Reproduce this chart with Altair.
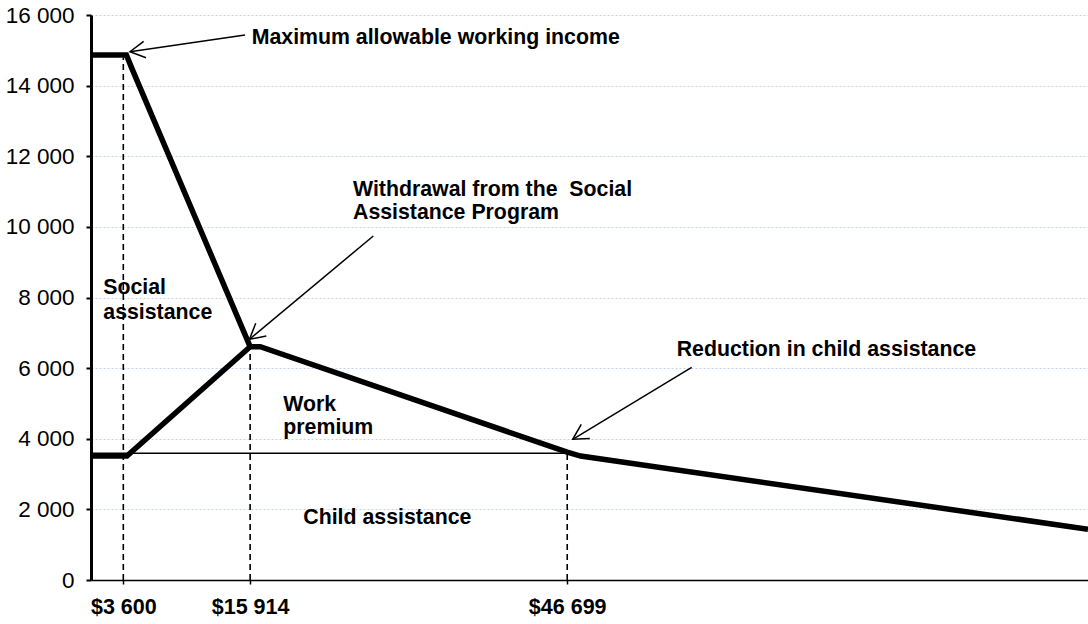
import math
import altair as alt
import pandas as pd

# ---------------- data ----------------
X_MIN, X_MAX = 464, 97260
Y_MAX = 16000
W, H = 997, 565

top_income = [464, 3900, 4400, 15914, 16900, 46699, 48000, 97260]
top_value = [14870, 14870, 14510, 6607, 6607, 3620, 3510, 1436]

low_income = [464, 3950, 15914]
low_value = [3510, 3510, 6607]

child_income = [464, 46500]
child_value = [3590, 3590]

marker_income = [3600, 15914, 46699]
marker_top = [14800, 6600, 3600]

y_ticks = [0, 2000, 4000, 6000, 8000, 10000, 12000, 14000, 16000]

arrow_tail_x = [15416, 27872, 58784]
arrow_tail_y = [15434, 9742, 6024]
arrow_tip_x = [4250, 15852, 47231]
arrow_tip_y = [14961, 6817, 3985]

notes = [
    "Maximum allowable working income",
    "Withdrawal from the \u00a0Social",
    "Assistance Program",
    "Social",
    "assistance",
    "Work",
    "premium",
    "Child assistance",
    "Reduction in child assistance",
]
note_x = [16066, 25901, 25901, 1658, 1658, 19134, 19134, 21076, 57328]
note_y = [15358, 11045, 10385, 8269, 7570, 4956, 4296, 1747, 6514]

FONT = "Liberation Sans"
FS = 21.3

# ---------------- frames ----------------
top_df = pd.DataFrame({"income": top_income, "value": top_value})
low_df = pd.DataFrame({"income": low_income, "value": low_value})
child_df = pd.DataFrame({"income": child_income, "value": child_value})
marker_df = pd.DataFrame({"income": marker_income, "value": [0] * len(marker_income), "value2": marker_top})


def px(v):
    return (v - X_MIN) / (X_MAX - X_MIN) * W


def py(v):
    return H - v / Y_MAX * H


angles = [
    math.degrees(math.atan2(py(ty) - py(sy), px(tx) - px(sx))) % 360
    for sx, sy, tx, ty in zip(arrow_tail_x, arrow_tail_y, arrow_tip_x, arrow_tip_y)
]
arrow_df = pd.DataFrame({
    "income": arrow_tail_x, "value": arrow_tail_y,
    "income2": arrow_tip_x, "value2": arrow_tip_y,
})
head_df = pd.DataFrame({"income": arrow_tip_x, "value": arrow_tip_y, "angle": angles})
note_df = pd.DataFrame({"income": note_x, "value": note_y, "note": notes})

xscale = alt.Scale(domain=[X_MIN, X_MAX], nice=False, zero=False)
yscale = alt.Scale(domain=[0, Y_MAX], nice=False)

x_axis = alt.Axis(
    values=marker_income,
    title=None,
    grid=False,
    labelExpr="'$' + replace(format(datum.value, ','), ',', ' ')",
    labelFont=FONT, labelFontSize=21.5, labelFontWeight="bold", labelColor="black",
    labelPadding=9,
    tickSize=7, tickColor="black", tickWidth=1.5, tickDash=[4, 3],
    domainColor="black", domainWidth=1.5,
)
y_axis = alt.Axis(
    values=y_ticks,
    title=None,
    grid=True, gridColor="#c6d0ee", gridDash=[2, 2], gridWidth=1,
    labelExpr="replace(format(datum.value, ','), ',', ' ')",
    labelFont=FONT, labelFontSize=22.5, labelColor="black",
    labelPadding=12,
    tickSize=5, tickColor="black", tickWidth=2,
    domainColor="black", domainWidth=3,
)


def X():
    return alt.X("income:Q", scale=xscale, axis=x_axis)


def Y():
    return alt.Y("value:Q", scale=yscale, axis=y_axis)


top_line = alt.Chart(top_df).mark_line(color="black", strokeWidth=5.5).encode(x=X(), y=Y(), order="income:Q")
low_line = alt.Chart(low_df).mark_line(color="black", strokeWidth=5.5).encode(x=X(), y=Y(), order="income:Q")
child_line = alt.Chart(child_df).mark_line(color="black", strokeWidth=1.6).encode(x=X(), y=Y())

markers = alt.Chart(marker_df).mark_rule(color="black", strokeWidth=1.6, strokeDash=[6, 4]).encode(
    x=X(), y=Y(), y2="value2:Q"
)

shafts = alt.Chart(arrow_df).mark_rule(color="black", strokeWidth=1.5).encode(
    x=X(), y=Y(), x2="income2:Q", y2="value2:Q"
)
heads = alt.Chart(head_df).mark_point(
    shape="M-1,-0.55L0,0L-1,0.55", filled=False, size=900, strokeWidth=1.5, color="black", opacity=1
).encode(x=X(), y=Y(), angle=alt.Angle("angle:Q", scale=None))

texts = alt.Chart(note_df).mark_text(
    align="left", baseline="middle", font=FONT, fontSize=FS, fontWeight="bold", color="black"
).encode(x=X(), y=Y(), text="note:N")

chart = (
    alt.layer(child_line, markers, low_line, top_line, shafts, heads, texts)
    .properties(width=W, height=H, autosize="none",
                padding={"left": 91, "top": 15, "right": 0, "bottom": 44},
                background="white")
    .configure_view(stroke=None)
)

chart.save("out.html", embed_options={"renderer": "svg", "actions": False})
